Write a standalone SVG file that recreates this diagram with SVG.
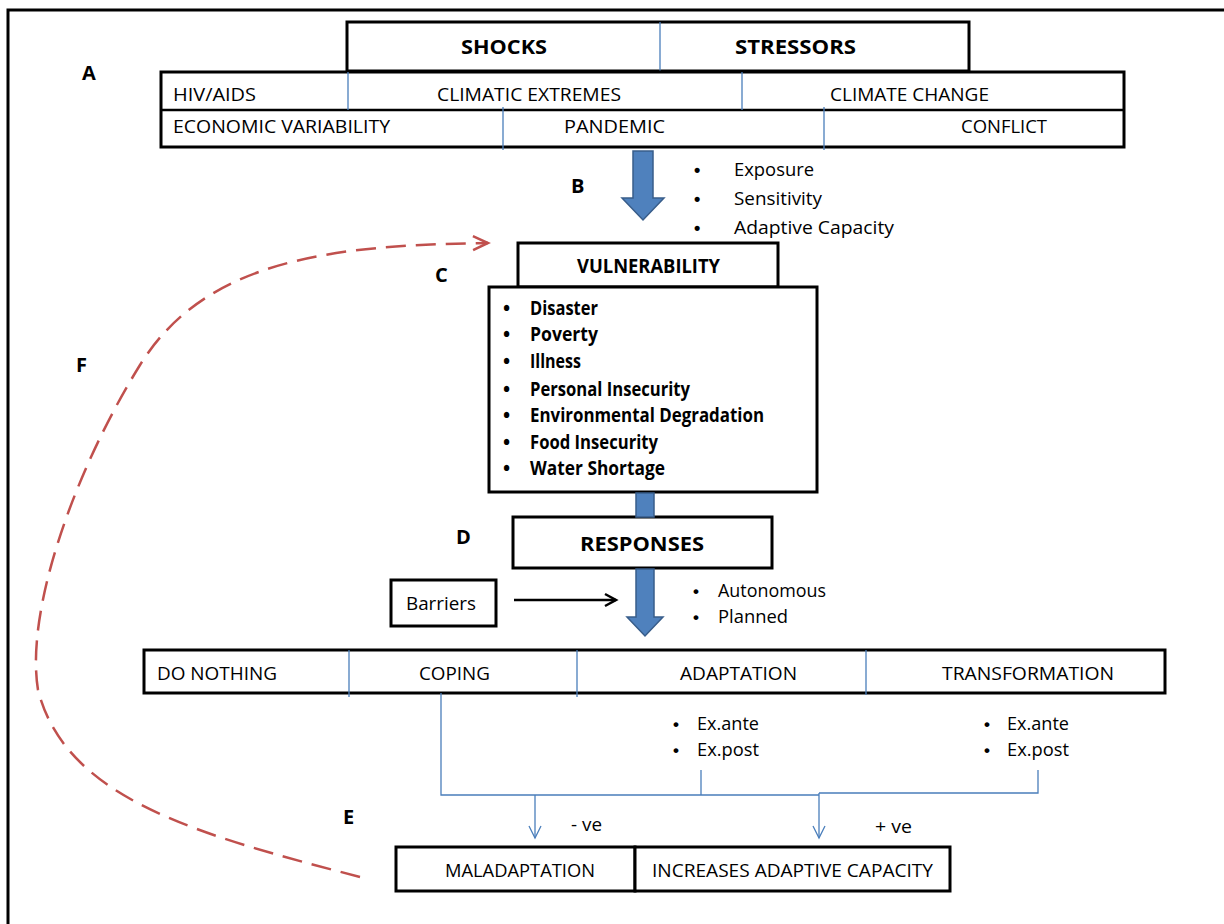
<svg xmlns="http://www.w3.org/2000/svg" width="1224" height="924" viewBox="0 0 1224 924">
<defs>
<style>
.box{fill:#fff;stroke:#000;stroke-width:3}
.div{stroke:#4a7ebb;stroke-width:1.3;fill:none}
.t{font-family:"Open Sans","Noto Sans","Liberation Sans",sans-serif;font-size:19px;fill:#000}
.b{font-weight:bold}
.bul{font-family:"Liberation Sans",sans-serif;font-weight:bold;fill:#000}
.lbl{font-family:"Open Sans","Liberation Sans",sans-serif;font-size:20px;font-weight:bold;fill:#000}
.blk{fill:#4f81bd;stroke:#385d8a;stroke-width:1.5}
</style>
<marker id="mBlue" markerUnits="userSpaceOnUse" markerWidth="16" markerHeight="16" refX="13" refY="7" orient="auto">
<path d="M1,1 L13,7 L1,13" fill="none" stroke="#4a7ebb" stroke-width="1.3"/>
</marker>
<marker id="mBlack" markerUnits="userSpaceOnUse" markerWidth="16" markerHeight="16" refX="13" refY="8" orient="auto">
<path d="M2,2 L13,8 L2,14" fill="none" stroke="#000" stroke-width="2.5"/>
</marker>
<marker id="mRed" markerUnits="userSpaceOnUse" markerWidth="20" markerHeight="20" refX="17" refY="10" orient="auto">
<path d="M2,3 L17,10 L2,17" fill="none" stroke="#c0504d" stroke-width="2.5"/>
</marker>
</defs>
<rect x="0" y="0" width="1224" height="924" fill="#fff"/>
<rect x="8" y="10" width="1240" height="940" fill="none" stroke="#000" stroke-width="3"/>

<g id="labels">
<text class="lbl" x="82" y="80">A</text>
<text class="lbl" x="571" y="193">B</text>
<text class="lbl" x="435" y="282">C</text>
<text class="lbl" x="456" y="544">D</text>
<text class="lbl" x="343" y="824">E</text>
<text class="lbl" x="76" y="372">F</text>
</g>

<g id="node-shocks-stressors">
<rect class="box" x="347" y="22" width="622" height="49"/>
<line class="div" x1="660" y1="22" x2="660" y2="71"/>
<text class="t b" x="461" y="54" textLength="86" lengthAdjust="spacingAndGlyphs">SHOCKS</text>
<text class="t b" x="735" y="54" textLength="121" lengthAdjust="spacingAndGlyphs">STRESSORS</text>
</g>

<g id="node-drivers">
<rect class="box" x="161" y="72" width="963" height="75"/>
<line x1="161" y1="110" x2="1124" y2="110" stroke="#000" stroke-width="2.5"/>
<line class="div" x1="348" y1="72" x2="348" y2="110"/>
<line class="div" x1="742" y1="72" x2="742" y2="110"/>
<line class="div" x1="503" y1="107" x2="503" y2="150"/>
<line class="div" x1="824" y1="107" x2="824" y2="150"/>
<text class="t" x="173" y="101" textLength="83" lengthAdjust="spacingAndGlyphs">HIV/AIDS</text>
<text class="t" x="437" y="101" textLength="184" lengthAdjust="spacingAndGlyphs">CLIMATIC EXTREMES</text>
<text class="t" x="830" y="101" textLength="159" lengthAdjust="spacingAndGlyphs">CLIMATE CHANGE</text>
<text class="t" x="173" y="133" textLength="217" lengthAdjust="spacingAndGlyphs">ECONOMIC VARIABILITY</text>
<text class="t" x="564" y="133" textLength="101" lengthAdjust="spacingAndGlyphs">PANDEMIC</text>
<text class="t" x="961" y="133" textLength="86" lengthAdjust="spacingAndGlyphs">CONFLICT</text>
</g>

<g id="node-exposure-list">
<text class="bul" x="694" y="176" font-size="18">•</text>
<text class="bul" x="694" y="205" font-size="18">•</text>
<text class="bul" x="694" y="234" font-size="18">•</text>
<text class="t" x="734" y="176" font-size="20" textLength="80" lengthAdjust="spacingAndGlyphs">Exposure</text>
<text class="t" x="734" y="205" font-size="20" textLength="88" lengthAdjust="spacingAndGlyphs">Sensitivity</text>
<text class="t" x="734" y="234" font-size="20" textLength="160" lengthAdjust="spacingAndGlyphs">Adaptive Capacity</text>
</g>

<g id="node-vulnerability">
<rect class="box" x="518" y="243" width="260" height="44"/>
<text class="t b" x="577" y="273" textLength="143" lengthAdjust="spacingAndGlyphs">VULNERABILITY</text>
<rect class="box" x="489" y="287" width="328" height="205"/>
<g class="t b" font-size="18">
<text x="503" y="315">•</text><text x="530" y="315" textLength="68" lengthAdjust="spacingAndGlyphs">Disaster</text>
<text x="503" y="341">•</text><text x="530" y="341" textLength="68" lengthAdjust="spacingAndGlyphs">Poverty</text>
<text x="503" y="368">•</text><text x="530" y="368" textLength="51" lengthAdjust="spacingAndGlyphs">Illness</text>
<text x="503" y="396">•</text><text x="530" y="396" textLength="160" lengthAdjust="spacingAndGlyphs">Personal Insecurity</text>
<text x="503" y="422">•</text><text x="530" y="422" textLength="234" lengthAdjust="spacingAndGlyphs">Environmental Degradation</text>
<text x="503" y="449">•</text><text x="530" y="449" textLength="128" lengthAdjust="spacingAndGlyphs">Food Insecurity</text>
<text x="503" y="475">•</text><text x="530" y="475" textLength="135" lengthAdjust="spacingAndGlyphs">Water Shortage</text>
</g>
</g>

<g id="node-responses">
<rect class="box" x="513" y="517" width="259" height="51"/>
<text class="t b" x="580" y="551" font-size="21" textLength="124" lengthAdjust="spacingAndGlyphs">RESPONSES</text>
</g>

<g id="node-barriers">
<rect class="box" x="391" y="580" width="105" height="46"/>
<text class="t" x="406" y="610" font-size="20" textLength="70" lengthAdjust="spacingAndGlyphs">Barriers</text>
</g>

<g id="node-response-types">
<text class="bul" x="693" y="597" font-size="17">•</text>
<text class="bul" x="693" y="623" font-size="17">•</text>
<text class="t" x="718" y="597" font-size="18" textLength="108" lengthAdjust="spacingAndGlyphs">Autonomous</text>
<text class="t" x="718" y="623" font-size="18" textLength="70" lengthAdjust="spacingAndGlyphs">Planned</text>
</g>

<g id="node-options">
<rect class="box" x="144" y="650" width="1021" height="43"/>
<line class="div" x1="349" y1="650" x2="349" y2="697"/>
<line class="div" x1="577" y1="650" x2="577" y2="697"/>
<line class="div" x1="866" y1="650" x2="866" y2="695"/>
<text class="t" x="157" y="680" textLength="120" lengthAdjust="spacingAndGlyphs">DO NOTHING</text>
<text class="t" x="419" y="680" textLength="71" lengthAdjust="spacingAndGlyphs">COPING</text>
<text class="t" x="680" y="680" textLength="117" lengthAdjust="spacingAndGlyphs">ADAPTATION</text>
<text class="t" x="942" y="680" textLength="172" lengthAdjust="spacingAndGlyphs">TRANSFORMATION</text>
</g>

<g id="node-adaptation-timing">
<text class="bul" x="673" y="730" font-size="17">•</text>
<text class="bul" x="673" y="756" font-size="17">•</text>
<text class="t" x="697" y="730" font-size="18" textLength="62" lengthAdjust="spacingAndGlyphs">Ex.ante</text>
<text class="t" x="697" y="756" font-size="18" textLength="62" lengthAdjust="spacingAndGlyphs">Ex.post</text>
</g>
<g id="node-transformation-timing">
<text class="bul" x="984" y="730" font-size="17">•</text>
<text class="bul" x="984" y="756" font-size="17">•</text>
<text class="t" x="1007" y="730" font-size="18" textLength="62" lengthAdjust="spacingAndGlyphs">Ex.ante</text>
<text class="t" x="1007" y="756" font-size="18" textLength="62" lengthAdjust="spacingAndGlyphs">Ex.post</text>
</g>

<g id="node-outcomes">
<rect class="box" x="396" y="847" width="239" height="44"/>
<rect class="box" x="635" y="847" width="315" height="44"/>
<text class="t" x="445" y="877" textLength="150" lengthAdjust="spacingAndGlyphs">MALADAPTATION</text>
<text class="t" x="652" y="877" textLength="281" lengthAdjust="spacingAndGlyphs">INCREASES ADAPTIVE CAPACITY</text>
</g>

<g id="connectors">
<polygon class="blk" points="633,151 653,151 653,198 664,198 643,220 622,198 633,198"/>
<rect class="blk" x="636" y="493" width="18" height="24"/>
<polygon class="blk" points="636,569 654,569 654,617 663,617 645,636 627,617 636,617"/>
<line x1="514" y1="600" x2="616" y2="600" stroke="#000" stroke-width="2.5" marker-end="url(#mBlack)"/>
<path class="div" d="M441,693 V795 H819"/>
<path class="div" d="M701,770 V795"/>
<path class="div" d="M819,793 H1038 V770"/>
<line class="div" x1="535" y1="795" x2="535" y2="838" marker-end="url(#mBlue)"/>
<line class="div" x1="819" y1="793" x2="819" y2="838" marker-end="url(#mBlue)"/>
<text class="t" x="571" y="831" font-size="18" textLength="31" lengthAdjust="spacingAndGlyphs">- ve</text>
<text class="t" x="875" y="833" font-size="18" textLength="37" lengthAdjust="spacingAndGlyphs">+ ve</text>
<path d="M360,877 C200,835 66,800 38,690 C25,610 75,470 140,365 C205,260 330,245 488,243" fill="none" stroke="#c0504d" stroke-width="2.5" stroke-dasharray="20,10" marker-end="url(#mRed)"/>
</g>
</svg>
